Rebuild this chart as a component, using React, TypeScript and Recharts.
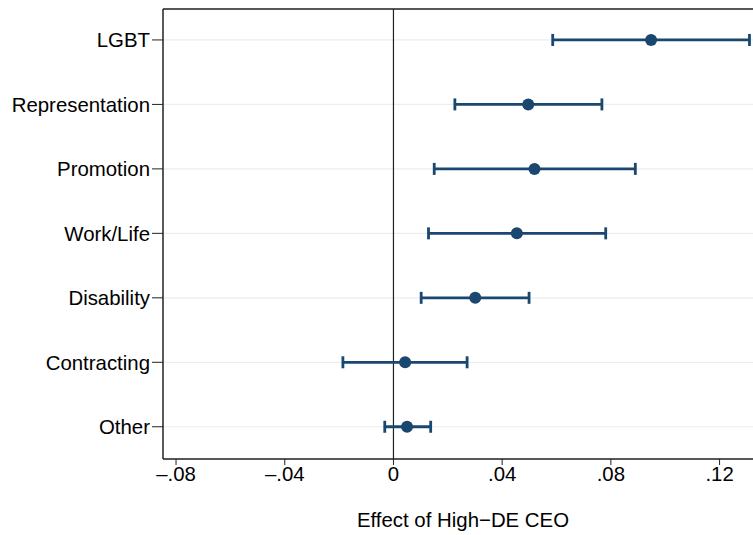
import React from 'react';
import {
  ScatterChart,
  Scatter,
  XAxis,
  YAxis,
  CartesianGrid,
  ErrorBar,
  ReferenceLine,
} from 'recharts';

const categories = ['LGBT', 'Representation', 'Promotion', 'Work/Life', 'Disability', 'Contracting', 'Other'];
const estimates = [0.0948, 0.0496, 0.0519, 0.0454, 0.0301, 0.0043, 0.005];
const lowerCI = [0.0586, 0.0226, 0.015, 0.0129, 0.0102, -0.0186, -0.0032];
const upperCI = [0.131, 0.0767, 0.089, 0.0781, 0.0499, 0.0271, 0.0137];
const rowPositions = [7, 6, 5, 4, 3, 2, 1];
const xTicks = [-0.08, -0.04, 0, 0.04, 0.08, 0.12];
const xTickLabels = ['\u2013.08', '\u2013.04', '0', '.04', '.08', '.12'];
const xTitle = 'Effect of High\u2212DE CEO';

const data = categories.map((c, i) => ({
  name: c,
  est: estimates[i],
  row: rowPositions[i],
  err: [estimates[i] - lowerCI[i], upperCI[i] - estimates[i]],
}));

const NAVY = '#1a476f';
const AXIS = '#222';
const FONT = '"Liberation Sans", Arial, Helvetica, sans-serif';
const FS = 20.4;

const Dot = (props: any) => <circle cx={props.cx} cy={props.cy} r={6} fill={NAVY} />;

const TitleLabel = (props: any) => {
  const vb = props.viewBox || {};
  return (
    <text
      x={vb.x + vb.width / 2 + 5}
      y={vb.y + 68}
      textAnchor="middle"
      fontSize={FS}
      fontFamily={FONT}
      fill="#000"
    >
      {xTitle}
    </text>
  );
};

export default function App() {
  return (
    <div style={{ position: 'absolute', left: 0, top: 0, width: 753, height: 535, overflow: 'hidden', background: '#fff' }}>
      <ScatterChart width={753} height={535} margin={{ top: 9, right: 0, bottom: 0, left: 0 }}>
        <CartesianGrid vertical={false} stroke="#e8eef2" strokeWidth={1.2} />
        <XAxis
          type="number"
          dataKey="est"
          domain={[-0.0848, 0.1323]}
          allowDataOverflow
          ticks={xTicks}
          tickFormatter={(v: number) => {
            const i = xTicks.findIndex((t) => Math.abs(t - v) < 1e-9);
            return i >= 0 ? xTickLabels[i] : String(v);
          }}
          height={76}
          tickSize={6}
          tickMargin={2}
          tick={{ fill: '#000', fontSize: FS, fontFamily: FONT }}
          axisLine={{ stroke: AXIS, strokeWidth: 1.5 }}
          tickLine={{ stroke: AXIS, strokeWidth: 1 }}
          label={<TitleLabel />}
        />
        <YAxis
          type="number"
          dataKey="row"
          domain={[0.5, 7.48]}
          allowDataOverflow
          ticks={rowPositions}
          tickFormatter={(v: number) => {
            const i = rowPositions.indexOf(v);
            return i >= 0 ? categories[i] : '';
          }}
          width={163}
          tickSize={11}
          tickMargin={2}
          tick={{ fill: '#000', fontSize: FS, fontFamily: FONT }}
          axisLine={{ stroke: AXIS, strokeWidth: 1.5 }}
          tickLine={{ stroke: AXIS, strokeWidth: 1 }}
        />
        <ReferenceLine y={7.48} stroke={AXIS} strokeWidth={1.5} />
        <ReferenceLine x={0} stroke={AXIS} strokeWidth={1.2} />
        <Scatter data={data} shape={<Dot />} isAnimationActive={false}>
          <ErrorBar dataKey="err" direction="x" width={6} stroke={NAVY} strokeWidth={2.8} isAnimationActive={false} />
        </Scatter>
      </ScatterChart>
    </div>
  );
}
